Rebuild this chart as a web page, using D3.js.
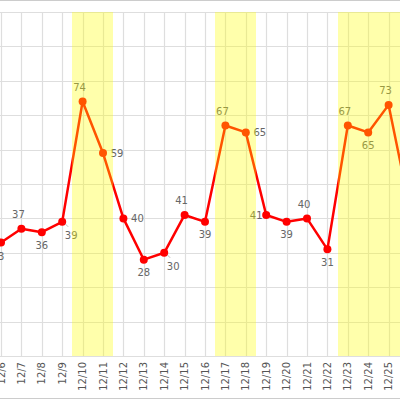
<!DOCTYPE html>
<html>
<head>
<meta charset="utf-8">
<script src="https://cdn.jsdelivr.net/npm/d3@7"></script>
<style>
  html, body { margin: 0; padding: 0; background: #fff; }
  svg { display: block; font-family: "DejaVu Sans", Verdana, sans-serif; }
</style>
</head>
<body>
<div id="chart"></div>
<script>
// daily values, 12/6 .. 12/26 (the chart is cut off on both sides)
const days = ['12/6', '12/7', '12/8', '12/9', '12/10', '12/11', '12/12', '12/13', '12/14', '12/15',
    '12/16', '12/17', '12/18', '12/19', '12/20', '12/21', '12/22', '12/23', '12/24', '12/25', '12/26'];
const values = [33, 37, 36, 39, 74, 59, 40, 28, 30, 41, 39, 67, 65, 41, 39, 40, 31, 67, 65, 73, 44];
// highlighted days (weekends / holidays)
const holidays = ['12/10', '12/11', '12/17', '12/18', '12/23', '12/24', '12/25', '12/26'];
const yTicks = [0, 10, 20, 30, 40, 50, 60, 70, 80, 90, 100];

const [svgWidth, svgHeight] = [400, 400];
const plot = { top: 12, bottom: 356 };

const data = days.map((d, i) => ({ day: d, value: values[i], i: i }));

const x = d3.scalePoint().domain(days).range([1, 409]);
const y = d3.scaleLinear().domain([0, 100]).range([plot.bottom, plot.top]);
const step = x.step();

const svg = d3.select('#chart').append('svg')
    .attr('width', svgWidth)
    .attr('height', svgHeight);

// outer lines
svg.append('line').attr('x1', 0).attr('x2', svgWidth).attr('y1', 0.5).attr('y2', 0.5)
    .attr('stroke', '#ccc');
svg.append('line').attr('x1', 0).attr('x2', svgWidth).attr('y1', 398.5).attr('y2', 398.5)
    .attr('stroke', '#ccc');

// grid
const grid = svg.append('g').attr('class', 'grid').attr('stroke', '#dedede').attr('stroke-width', 1.2);
grid.selectAll('line.h').data(yTicks).join('line')
    .attr('class', 'h')
    .attr('x1', 0).attr('x2', svgWidth)
    .attr('y1', d => Math.round(y(d)) + 0.5).attr('y2', d => Math.round(y(d)) + 0.5);
grid.selectAll('line.v').data(days).join('line')
    .attr('class', 'v')
    .attr('x1', d => Math.round(x(d)) + 0.5).attr('x2', d => Math.round(x(d)) + 0.5)
    .attr('y1', plot.top).attr('y2', plot.bottom);

// line + points
const line = d3.line().x(d => x(d.day)).y(d => y(d.value));
svg.append('path')
    .datum(data)
    .attr('fill', 'none')
    .attr('stroke', '#ff0000')
    .attr('stroke-width', 2.5)
    .attr('stroke-linejoin', 'round')
    .attr('d', line);

svg.append('g').selectAll('circle').data(data).join('circle')
    .attr('cx', d => x(d.day))
    .attr('cy', d => y(d.value))
    .attr('r', 4)
    .attr('fill', '#ff0000');

// label placement from the shape of the line around each point
function labelOffset(d) {
    const prev = d.i > 0 ? values[d.i - 1] : null;
    const next = d.i < values.length - 1 ? values[d.i + 1] : null;
    if (prev === null) return { dx: -3, dy: 14, kind: 'min' };
    if (next === null) return { dx: 0, dy: 13, kind: 'min' };
    if (d.value >= prev && d.value >= next) return { dx: -3, dy: -14, kind: 'max' };
    if (d.value <= prev && d.value <= next) return { dx: 0, dy: 13, kind: 'min' };
    if (d.value > prev) return { dx: 9, dy: 14, kind: 'rise' };
    if (prev - d.value > 0 && d.value - next < 5) return { dx: -10, dy: 1, kind: 'fall' };
    return { dx: 14, dy: 0, kind: 'fall' };
}

const labels = svg.append('g');
labels.selectAll('line').data(data.filter(d => labelOffset(d).kind === 'rise')).join('line')
    .attr('x1', d => x(d.day) + 3).attr('y1', d => y(d.value) + 2)
    .attr('x2', d => x(d.day) + 6).attr('y2', d => y(d.value) + 5)
    .attr('stroke', '#bbb');
labels.selectAll('text').data(data).join('text')
    .attr('x', d => x(d.day) + labelOffset(d).dx)
    .attr('y', d => y(d.value) + labelOffset(d).dy)
    .attr('dy', '0.35em')
    .attr('text-anchor', 'middle')
    .attr('font-size', 10)
    .attr('fill', '#666')
    .text(d => d.value);

// holiday bands drawn on top, translucent
svg.append('g').selectAll('rect').data(holidays).join('rect')
    .attr('x', d => x(d) - step / 2)
    .attr('width', step)
    .attr('y', plot.top)
    .attr('height', plot.bottom - plot.top)
    .attr('fill', '#ffff00')
    .attr('fill-opacity', 0.33)
    .attr('shape-rendering', 'crispEdges');

// x axis labels, rotated
svg.append('g').selectAll('text').data(days).join('text')
    .attr('transform', d => 'translate(' + x(d) + ',' + (plot.bottom + 6) + ') rotate(-90)')
    .attr('dy', '0.35em')
    .attr('text-anchor', 'end')
    .attr('font-size', 10)
    .attr('fill', '#555')
    .text(d => d);
</script>
</body>
</html>
